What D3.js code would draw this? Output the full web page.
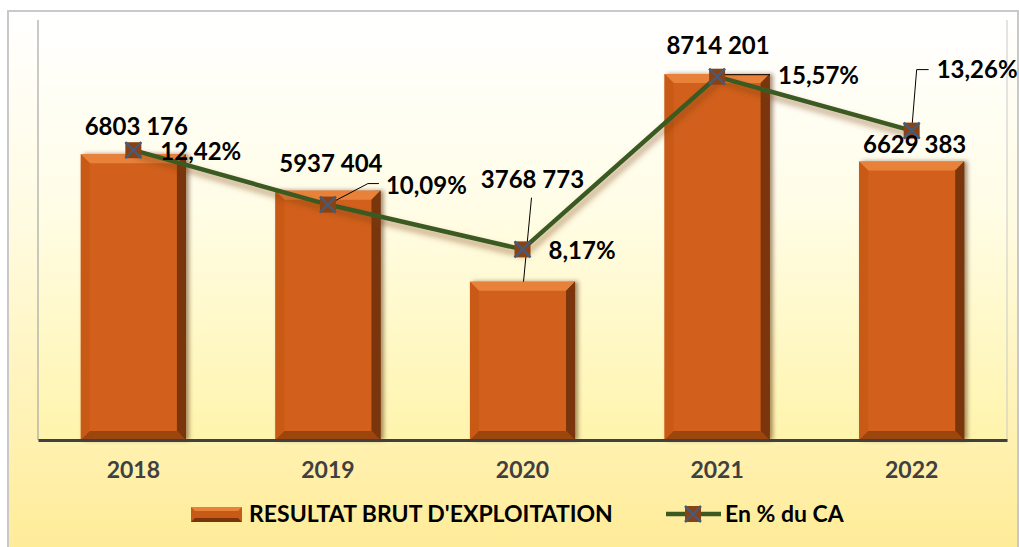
<!DOCTYPE html>
<html>
<head>
<meta charset="utf-8">
<script src="https://cdn.jsdelivr.net/npm/d3@7"></script>
<style>
  body { margin: 0; background: #fff; }
  svg { display: block; font-family: Lato, 'Open Sans', sans-serif; }
</style>
</head>
<body>
<div id="chart"></div>
<script>
// Chart data
const years = ['2018', '2019', '2020', '2021', '2022'];
const rbe = [6803176, 5937404, 3768773, 8714201, 6629383];
const pctCA = [12.42, 10.09, 8.17, 15.57, 13.26];
const seriesNames = ["RESULTAT BRUT D'EXPLOITATION", 'En % du CA'];

// Label offsets (layout only), relative to the data point
const valueLabelPos = [[3, -19], [3, -19], [10, -94], [1, -20], [3, -9]];
const pctLabelPos = [[27, 10], [58, -11], [26, 10], [61, 7], [25, -53]];

let svgWidth = 1019;
let svgHeight = 547;

let margin = { top: 20, right: 12, bottom: 107, left: 38 };

let svg = d3.select('#chart')
  .append('svg')
  .attr('width', svgWidth)
  .attr('height', svgHeight);

let defs = svg.append('defs');

// Outer background gradient (white to yellow)
let bgGrad = defs.append('linearGradient').attr('id', 'bgGrad')
  .attr('x1', 0).attr('y1', 0).attr('x2', 0).attr('y2', 1);
bgGrad.append('stop').attr('offset', '0%').attr('stop-color', '#ffffff');
bgGrad.append('stop').attr('offset', '40%').attr('stop-color', '#fffbe0');
bgGrad.append('stop').attr('offset', '100%').attr('stop-color', '#ffec98');

// Plot area gradient
let plotGrad = defs.append('linearGradient').attr('id', 'plotGrad')
  .attr('x1', 0).attr('y1', 0).attr('x2', 0).attr('y2', 1);
plotGrad.append('stop').attr('offset', '0%').attr('stop-color', '#ffffff');
plotGrad.append('stop').attr('offset', '45%').attr('stop-color', '#fffde6');
plotGrad.append('stop').attr('offset', '100%').attr('stop-color', '#fff4ac');

// Bar body gradient
let barGrad = defs.append('linearGradient').attr('id', 'barGrad')
  .attr('x1', 0).attr('y1', 0).attr('x2', 1).attr('y2', 0);
barGrad.append('stop').attr('offset', '0%').attr('stop-color', '#d2611a');
barGrad.append('stop').attr('offset', '92%').attr('stop-color', '#d2611a');
barGrad.append('stop').attr('offset', '100%').attr('stop-color', '#5a2606');

// Line shadow
let shadow = defs.append('filter').attr('id', 'lineShadow')
  .attr('x', '-10%').attr('y', '-30%').attr('width', '120%').attr('height', '160%');
shadow.append('feDropShadow')
  .attr('dx', 2).attr('dy', 5).attr('stdDeviation', 3)
  .attr('flood-color', '#7a3a12').attr('flood-opacity', 0.55);

// Bar shadow
let barShadow = defs.append('filter').attr('id', 'barShadow')
  .attr('x', '-10%').attr('y', '-10%').attr('width', '130%').attr('height', '120%');
barShadow.append('feDropShadow')
  .attr('dx', 3).attr('dy', 0).attr('stdDeviation', 2)
  .attr('flood-color', '#4a2000').attr('flood-opacity', 0.5);

// Outer frame
svg.append('rect')
  .attr('x', 8).attr('y', 11)
  .attr('width', 1010).attr('height', 540)
  .attr('fill', 'url(#bgGrad)')
  .attr('stroke', '#c9c9c9')
  .attr('stroke-width', 2);

let width = svgWidth - margin.left - margin.right;
let height = svgHeight - margin.top - margin.bottom;

let chartGroup = svg.append('g')
  .attr('transform', `translate(${margin.left}, ${margin.top})`);

// Plot area
chartGroup.append('rect')
  .attr('width', width).attr('height', height)
  .attr('fill', 'url(#plotGrad)');

// Scales
let xScale = d3.scaleBand()
  .domain(years)
  .range([0, width])
  .paddingInner(0.46)
  .paddingOuter(0.22);

let yLeft = d3.scaleLinear().domain([0, 10000000]).range([height, 0]);
let yRight = d3.scaleLinear().domain([0, 18]).range([height, 0]);

// Left and right thin frame lines of the plot
chartGroup.append('line')
  .attr('x1', 0).attr('x2', 0).attr('y1', 0).attr('y2', height)
  .attr('stroke', '#a6a6a6').attr('stroke-width', 1.2);
chartGroup.append('line')
  .attr('x1', width).attr('x2', width).attr('y1', 0).attr('y2', height)
  .attr('stroke', '#c9c9c9').attr('stroke-width', 1);

// Bars with a bevel
const bev = 9;
let bars = chartGroup.selectAll('.bar')
  .data(years.map((y, i) => ({ year: y, value: rbe[i] })))
  .enter()
  .append('g')
  .attr('class', 'bar')
  .attr('filter', 'url(#barShadow)');

bars.append('rect')
  .attr('x', d => xScale(d.year))
  .attr('y', d => yLeft(d.value))
  .attr('width', xScale.bandwidth())
  .attr('height', d => height - yLeft(d.value))
  .attr('fill', 'url(#barGrad)');

// top bevel (light)
bars.append('path')
  .attr('fill', '#e8823a')
  .attr('d', d => {
    let x0 = xScale(d.year), x1 = x0 + xScale.bandwidth(), y0 = yLeft(d.value);
    return `M${x0},${y0}L${x1},${y0}L${x1 - bev},${y0 + bev}L${x0 + bev},${y0 + bev}Z`;
  });
// left bevel
bars.append('path')
  .attr('fill', '#c85a16')
  .attr('d', d => {
    let x0 = xScale(d.year), y0 = yLeft(d.value);
    return `M${x0},${y0}L${x0 + bev},${y0 + bev}L${x0 + bev},${height - bev}L${x0},${height}Z`;
  });
// right bevel (dark)
bars.append('path')
  .attr('fill', '#7a3409')
  .attr('d', d => {
    let x1 = xScale(d.year) + xScale.bandwidth(), y0 = yLeft(d.value);
    return `M${x1},${y0}L${x1 - bev},${y0 + bev}L${x1 - bev},${height - bev}L${x1},${height}Z`;
  });
// bottom bevel (darker)
bars.append('path')
  .attr('fill', '#9c4510')
  .attr('d', d => {
    let x0 = xScale(d.year), x1 = x0 + xScale.bandwidth();
    return `M${x0},${height}L${x0 + bev},${height - bev}L${x1 - bev},${height - bev}L${x1},${height}Z`;
  });

// X axis
let xAxis = chartGroup.append('g')
  .attr('transform', `translate(0, ${height})`)
  .call(d3.axisBottom(xScale).tickSize(0).tickPadding(22));
xAxis.select('.domain').attr('stroke', '#404040').attr('stroke-width', 3);
xAxis.selectAll('text')
  .attr('font-family', 'Lato, sans-serif')
  .attr('font-size', '23px')
  .attr('font-weight', 'bold')
  .attr('fill', '#404040');

// Percentage line
let cx = i => xScale(years[i]) + xScale.bandwidth() / 2;
let line = d3.line()
  .x((d, i) => cx(i))
  .y(d => yRight(d));

chartGroup.append('path')
  .datum(pctCA)
  .attr('d', line)
  .attr('fill', 'none')
  .attr('stroke', '#3b5a22')
  .attr('stroke-width', 4.5)
  .attr('filter', 'url(#lineShadow)');

// Leader lines
const leader = [
  null,
  i => [[cx(i), yRight(pctCA[i])], [cx(i) + 40, yRight(pctCA[i]) - 21], [cx(i) + 51, yRight(pctCA[i]) - 21]],
  i => [[cx(i) + 9, yLeft(rbe[i]) - 84], [cx(i) + 1, yLeft(rbe[i])]],
  i => [[cx(i), yRight(pctCA[i]) - 2], [cx(i) + 53, yRight(pctCA[i]) - 2]],
  i => [[cx(i), yRight(pctCA[i])], [cx(i) + 5, yRight(pctCA[i]) - 61], [cx(i) + 17, yRight(pctCA[i]) - 61]]
];
leader.forEach((f, i) => {
  if (!f) return;
  chartGroup.append('path')
    .attr('d', d3.line()(f(i)))
    .attr('fill', 'none')
    .attr('stroke', '#000')
    .attr('stroke-width', 1);
});

// Markers
function drawMarker(g, x, y) {
  g.append('rect')
    .attr('x', x - 8).attr('y', y - 8)
    .attr('width', 16).attr('height', 16)
    .attr('fill', '#8a4214');
  g.append('path')
    .attr('d', `M${x - 8},${y - 8}L${x + 8},${y + 8}M${x + 8},${y - 8}L${x - 8},${y + 8}`)
    .attr('stroke', '#4a5a72')
    .attr('stroke-width', 2.5);
}
pctCA.forEach((v, i) => drawMarker(chartGroup, cx(i), yRight(v)));

// Value labels
let fr = d3.formatLocale({ decimal: ',', thousands: ' ', grouping: [3], currency: ['', ''] });
let fmtPct = v => fr.format('.2f')(v) + '%';
let fmtVal = v => Math.floor(v / 1000) + ' ' + String(v % 1000).padStart(3, '0');

chartGroup.selectAll('.valLabel')
  .data(rbe)
  .enter()
  .append('text')
  .attr('class', 'valLabel')
  .attr('x', (d, i) => cx(i) + valueLabelPos[i][0])
  .attr('y', (d, i) => yLeft(d) + valueLabelPos[i][1])
  .attr('text-anchor', 'middle')
  .attr('font-size', '24px')
  .attr('font-weight', 'bold')
  .attr('fill', '#000')
  .text(d => fmtVal(d));

chartGroup.selectAll('.pctLabel')
  .data(pctCA)
  .enter()
  .append('text')
  .attr('class', 'pctLabel')
  .attr('x', (d, i) => cx(i) + pctLabelPos[i][0])
  .attr('y', (d, i) => yRight(d) + pctLabelPos[i][1])
  .attr('font-size', '24px')
  .attr('font-weight', 'bold')
  .attr('fill', '#000')
  .text(d => fmtPct(d));

// Legend
let legend = svg.append('g');
// bar swatch
let sw = { x: 191, y: 507, w: 51, h: 15 };
legend.append('rect')
  .attr('x', sw.x).attr('y', sw.y).attr('width', sw.w).attr('height', sw.h)
  .attr('fill', '#c65a16');
legend.append('path')
  .attr('d', `M${sw.x},${sw.y}L${sw.x + sw.w},${sw.y}L${sw.x + sw.w - 4},${sw.y + 4}L${sw.x + 4},${sw.y + 4}Z`)
  .attr('fill', '#e8813a');
legend.append('path')
  .attr('d', `M${sw.x},${sw.y + sw.h}L${sw.x + sw.w},${sw.y + sw.h}L${sw.x + sw.w - 4},${sw.y + sw.h - 4}L${sw.x + 4},${sw.y + sw.h - 4}Z`)
  .attr('fill', '#7a3409');
legend.append('text')
  .attr('x', 249).attr('y', 522)
  .attr('font-size', '23px')
  .attr('font-weight', 'bold')
  .attr('fill', '#000')
  .text(seriesNames[0]);

legend.append('line')
  .attr('x1', 666).attr('x2', 721).attr('y1', 514).attr('y2', 514)
  .attr('stroke', '#3b5a22').attr('stroke-width', 4.5);
drawMarker(legend, 693, 514);
legend.append('text')
  .attr('x', 725).attr('y', 522)
  .attr('font-size', '23px')
  .attr('font-weight', 'bold')
  .attr('fill', '#000')
  .text(seriesNames[1]);
</script>
</body>
</html>
